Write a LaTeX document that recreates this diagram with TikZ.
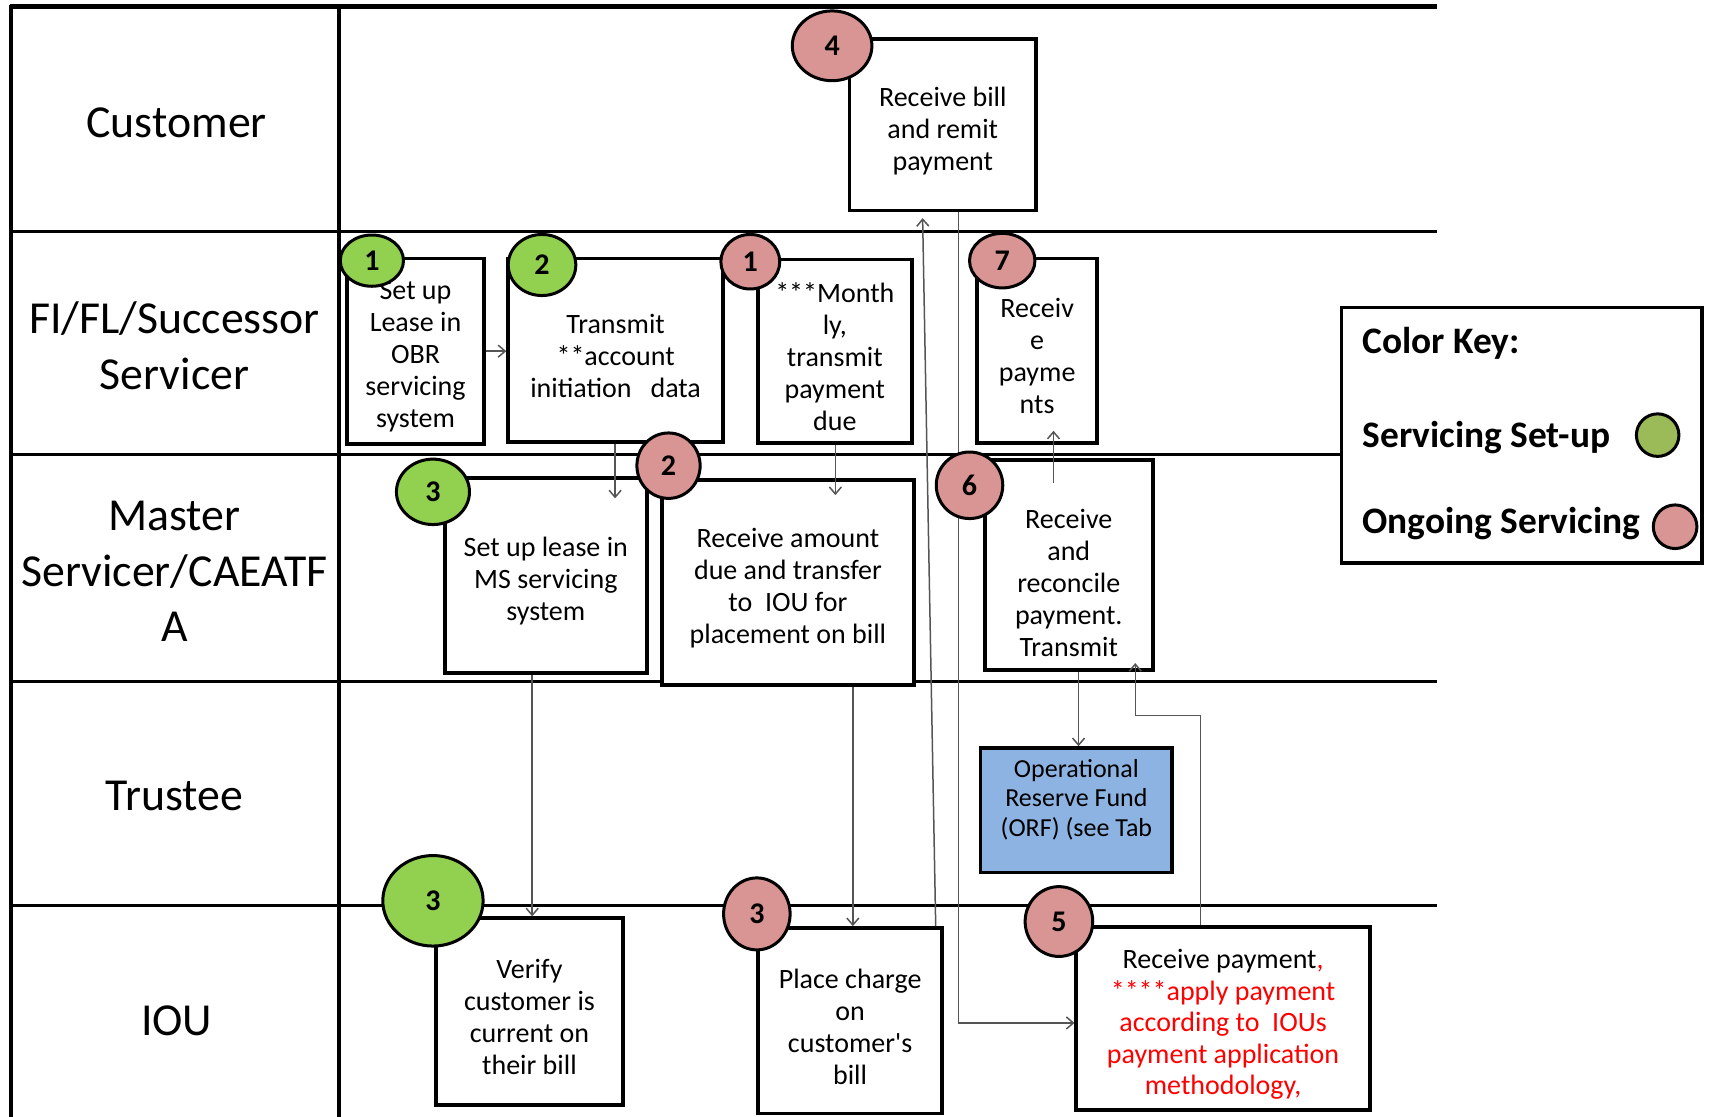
\documentclass[tikz,border=0pt]{standalone}
\usepackage{fontspec}
\setmainfont{Carlito}
\usetikzlibrary{fit,shapes.geometric,arrows.meta}
\definecolor{setupgreen}{HTML}{92D050}
\definecolor{keygreen}{HTML}{9BBB59}
\definecolor{ongoingpink}{HTML}{D99594}
\definecolor{orfblue}{HTML}{8DB3E2}
\definecolor{arrowgray}{HTML}{555555}
\def\U{0.5453pt}
\tikzset{
  lane/.style={line width=1.6pt},
  stepbox/.style={draw, line width=1.9pt, fill=white, inner sep=0pt},
  boxtext/.style={inner sep=0pt, align=center, font=\fontsize{14}{16}\selectfont},
  intext/.style={boxtext, yshift=-2.9pt},
  badge/.style={draw, ellipse, line width=1.5pt, inner sep=0pt, font=\bfseries\fontsize{15}{15}\selectfont},
  setup/.style={badge, fill=setupgreen},
  ongoing/.style={badge, fill=ongoingpink},
  flow/.style={draw=arrowgray, line width=0.75pt, -{Straight Barb[length=3.5pt,width=6pt]}},
  lanelabel/.style={align=center, inner sep=0pt, font=\fontsize{22.9}{27.8}\selectfont},
  keytext/.style={anchor=base west, inner sep=0pt, font=\bfseries\fontsize{18.7}{22}\selectfont},
}
\begin{document}
\begin{tikzpicture}[x=0.5453pt, y=-0.5453pt]
\useasboundingbox (0,0) rectangle (1568,1024);

% lanes
\draw[line width=2.2pt] (9,6) -- (1318,6);
\draw[lane] (10,212) -- (1318,212);
\draw[lane] (10,417) -- (1230,417);
\draw[lane] (10,625) -- (1318,625);
\draw[lane] (10,830) -- (1318,830);
\draw[line width=2pt] (10,5) -- (10,1024);
\draw[line width=2pt] (311,5) -- (311,1024);

% lane labels
\node[lanelabel] (lcust) at (162,113) {Customer};
\node[lanelabel] (lfi) at (160,317) {FI/FL/Successor\\Servicer};
\node[lanelabel] (lms) at (160,524) {Master\\Servicer/CAEATF\\A};
\node[lanelabel] (ltr) at (160,730) {Trustee};
\node[lanelabel] (liou) at (162,936) {IOU};

% boxes
\node[stepbox, fit={(779,36) (950,193)}, label={[intext]center:{Receive bill\\and remit\\payment}}] (b4) {};
\node[stepbox, fit={(318,237) (444,407)}, label={[intext]center:{Set up\\Lease in\\OBR\\servicing\\system}}] (b1) {};
\node[stepbox, fit={(466,237) (663,405)}, label={[intext]center:{Transmit\\{}**account\\initiation\ \ \ data}}] (b2) {};
\node[stepbox, fit={(695,238) (836,406)}, label={[intext]center:{***Month\\ly,\\transmit\\payment\\due}}] (b3) {};
\node[stepbox, fit={(896,237) (1006,406)}, label={[intext]center:{Receiv\\e\\payme\\nts}}] (b7) {};
\node[stepbox, fit={(408,438) (593,617)}, label={[intext]center:{Set up lease in\\MS servicing\\system}}] (b5) {};
\node[stepbox, fit={(607,440) (838,628)}, label={[intext]center:{Receive amount\\due and transfer\\to\ \ IOU for\\placement on bill}}] (b6) {};
\node[stepbox, fit={(903,422) (1057,614)}] (b8) {};
\node[boxtext] (t8) at (980,535) {Receive\\and\\reconcile\\payment.\\Transmit};
\node[stepbox, fill=orfblue, fit={(899,686) (1075,800)}] (orf) {};
\node[boxtext, font=\fontsize{13}{14.7}\selectfont] (torf) at (987,733) {Operational\\Reserve Fund\\(ORF) (see Tab};
\node[stepbox, fit={(400,842) (571,1013)}, label={[intext]center:{Verify\\customer is\\current on\\their bill}}] (b9) {};
\node[stepbox, fit={(695,851) (864,1021)}, label={[intext]center:{Place charge\\on\\customer\textquotesingle s\\bill}}] (b10) {};
\node[stepbox, fit={(987,850) (1256,1018)}, label={[intext, font=\fontsize{14}{15.7}\selectfont]center:{Receive payment{\color{red},}\\\color{red}****apply payment\\\color{red}according to\ \ IOUs\\\color{red}payment application\\\color{red}methodology,}}] (b11) {};

% connectors
\draw[flow] (b1.east) -- (b1.east -| b2.west);
\coordinate (a2) at (564,457);
\draw[flow] (b2.south -| a2) -- (a2);
\coordinate (a3) at (766,454);
\draw[flow] (b3.south -| a3) -- (a3);
\coordinate (a4) at (488,617);
\draw[flow] (b5.south -| a4) -- (b9.north -| a4);
\coordinate (a5) at (782,632);
\draw[flow] (b6.south -| a5) -- (b10.north -| a5);
\coordinate (a6s) at (858,851);
\coordinate (a6e) at (846,200);
\draw[flow] (b10.north -| a6s) -- (a6e);
\coordinate (a7) at (879,938);
\draw[flow] (b4.south -| a7) -- (a7) -- (a7 -| b11.west);
\coordinate (a8a) at (1101,656);
\coordinate (a8b) at (1041,608);
\draw[flow] (b11.north -| a8a) -- (a8a) -- (a8a -| a8b) -- (a8b);
\coordinate (a9) at (989,614);
\draw[flow] (b8.south -| a9) -- (orf.north -| a9);
\coordinate (a10s) at (966,443);
\coordinate (a10e) at (966,395);
\draw[flow] (a10s) -- (a10e);

% step badges
\node[ongoing, minimum width=73*\U, minimum height=64*\U] (n4) at (763,42) {4};
\node[setup, minimum width=58*\U, minimum height=47*\U] (s1) at (341,239) {1};
\node[setup, minimum width=62*\U, minimum height=56*\U] (s2) at (497,243) {2};
\node[ongoing, minimum width=54*\U, minimum height=50*\U] (n1) at (688,240) {1};
\node[ongoing, minimum width=60*\U, minimum height=50*\U] (n7) at (919,239) {7};
\node[setup, minimum width=67*\U, minimum height=60*\U] (s3) at (397,451) {3};
\node[ongoing, minimum width=58*\U, minimum height=60*\U] (n2) at (613,427) {2};
\node[ongoing, minimum width=61*\U, minimum height=61*\U] (n6) at (889,445) {6};
\node[setup, minimum width=92*\U, minimum height=83*\U] (s3b) at (397,826) {3};
\node[ongoing, minimum width=61*\U, minimum height=66*\U] (n3) at (694,838) {3};
\node[ongoing, minimum width=62*\U, minimum height=64*\U] (n5) at (971,845) {5};

% colour key
\node[draw, line width=1.9pt, inner sep=0pt, fit={(1230,282) (1561,516)}] (key) {};
\node[keytext] (k0) at (1249,324) {Color Key:};
\node[keytext] (k1) at (1249,410) {Servicing Set-up};
\node[keytext] (k2) at (1249,489) {Ongoing Servicing};
\node[badge, fill=keygreen, minimum size=39*\U] (kc1) at (1520,399) {};
\node[badge, fill=ongoingpink, minimum size=40*\U] (kc2) at (1536,483) {};
\end{tikzpicture}
\end{document}
